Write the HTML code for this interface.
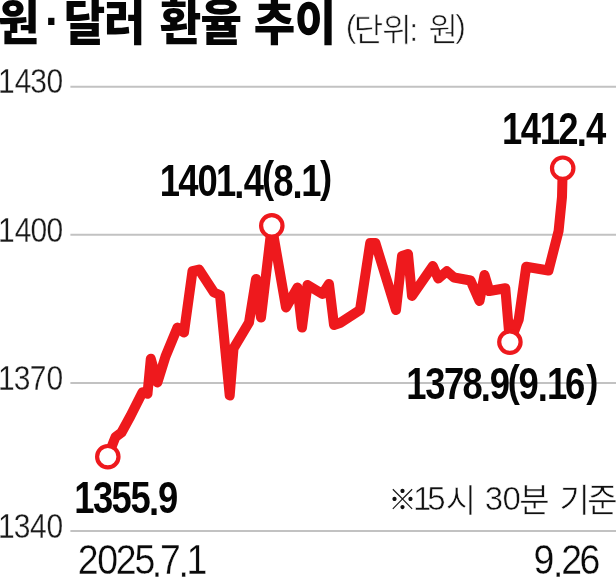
<!DOCTYPE html>
<html lang="ko">
<head>
<meta charset="utf-8">
<title>원·달러 환율 추이</title>
<style>
html,body{margin:0;padding:0;background:#fff;}
body{width:616px;height:577px;overflow:hidden;position:relative;}
svg{position:absolute;left:0;top:0;display:block;}
text{font-family:"Liberation Sans","Noto Sans CJK KR",sans-serif;white-space:pre;}
.title{font-weight:900;font-size:49px;fill:#050505;}
.unit{font-weight:400;font-size:32px;fill:#161616;stroke:#fff;stroke-width:0.6px;}
.ax{font-size:35.6px;fill:#1a1a1a;stroke:#fff;stroke-width:0.3px;}
.dt{font-size:42px;fill:#0a0a0a;stroke:#fff;stroke-width:0.3px;}
.lb{font-size:44.5px;font-weight:700;fill:#050505;}
.note{font-weight:400;font-size:33px;fill:#111;stroke:#fff;stroke-width:0.55px;}
</style>
</head>
<body>
<svg width="616" height="577" viewBox="0 0 616 577">
  <rect width="616" height="577" fill="#fff"/>
  <g stroke="#c2c2c2" stroke-width="2">
    <line x1="70.4" y1="86.7" x2="616" y2="86.7"/>
    <line x1="70.4" y1="234.8" x2="616" y2="234.8"/>
    <line x1="70.4" y1="382.9" x2="616" y2="382.9"/>
    <line x1="70.4" y1="531" x2="616" y2="531"/>
  </g>
  <text class="ko title" transform="translate(0 39.9) scale(0.92 1)" x="-2.24 48.85 69.41 113.17 162.17 173.55 217.89 266.89 275.83 320.29" y="0 -1.5 0 0 0 0 0 0 0 0">원·달러 환율 추이</text>
  <text class="ko unit" transform="translate(0 40.5) scale(1.0 1)" x="345.82 353.82 382.32 409.32 441.32 428.4 455.22" y="-3.2 0 0 0 0 0 -3.2">(단위: 원)</text>
  <text class="ax" transform="translate(0 93.3) scale(0.843 1)" x="-2.32 17.49 35.88 55.04" y="0">1430</text>
  <text class="ax" transform="translate(0 241.6) scale(0.843 1)" x="-2.32 17.49 36.06 55.04" y="0">1400</text>
  <text class="ax" transform="translate(0 389.9) scale(0.843 1)" x="-2.32 16.31 35.35 55.28" y="0">1370</text>
  <text class="ax" transform="translate(0 537.7) scale(0.843 1)" x="-2.32 16.31 35.64 55.04" y="0">1340</text>
  <polyline fill="none" stroke="#ee191d" stroke-width="10" stroke-linejoin="round" stroke-linecap="round"
   points="107.8,456.7 113.5,442 115.5,437 121.5,432.5 130.5,416 142.5,392.3 147.5,393.8 150.8,358.8 157.4,382.5 165.5,356.5 172.3,340 177.5,327.5 184,332.5 192.5,271 199,269.5 214,292.5 220,295 229.7,395.5 233.5,348.5 249,322.5 256,279 261,317.5 271.8,225.8 286,307.5 297.5,287.5 302,327.5 307.5,285 322.5,294 329,284 334,325 340,323 360,310 370.2,243 375.4,243 396,310 402,256 408,254 412,296 432.8,266 438.3,278.5 446.8,271.2 454,277.5 470.5,280.5 479.5,301 484.5,275 489.3,291 505.3,288.2 509.9,342.1 518.7,319.7 526.2,266.8 548.5,270.5 558.6,231 562,197 562.7,168.2"/>
  <g fill="#fff" stroke="#ee191d" stroke-width="4.2">
    <circle cx="107.8" cy="456.7" r="10.7"/>
    <circle cx="271.8" cy="225.8" r="10.7"/>
    <circle cx="509.9" cy="342.1" r="10.7"/>
    <circle cx="562.7" cy="168.2" r="10.7"/>
  </g>
  <text class="lb" transform="translate(0 143.6) scale(0.818 1)" x="613.67 636.58 659.76 682.51 705.02 716.47" y="0 0 0 0 2.2 0">1412.4</text>
  <text class="lb" transform="translate(0 195.8) scale(0.818 1)" x="195.33 218 241.43 264.03 286.31 298.08 320.15 334.12 357.58 368.31 391.08" y="0 0 0 0 2.2 0 -3.5 0 2.2 0 -3.5">1401.4(8.1)</text>
  <text class="lb" transform="translate(0 399.2) scale(0.818 1)" x="496.67 519.77 542.77 565.54 587.72 598.79 620.88 633.99 657.34 668.8 690.84 716.75" y="0 0 0 0 2.2 0 -3.5 0 2.2 0 0 -3.5">1378.9(9.16)</text>
  <text class="lb" transform="translate(0 513.2) scale(0.818 1)" x="90.81 113.78 136.44 159.54 182.03 193.16" y="0 0 0 0 2.2 0">1355.9</text>
  <text class="ko note" transform="translate(0 511.5) scale(1.0 1)"><tspan x="388.5" y="-1.7" font-size="28" stroke="none">※</tspan><tspan x="413.06 427.32 445.64 478.64 484.82 502.56 519.28 552.28 559.61 587.19" y="-1.6 -1.6 0 0 -1.6 -1.6 0 0 0 0">15시 30분 기준</tspan></text>
  <text class="dt" transform="translate(0 574.2) scale(0.89 1)" x="87.34 109.2 130.15 151.26 170.52 179.7 200.69 209.46" y="0 0 0 0 2.6 0 2.6 0">2025.7.1</text>
  <text class="dt" transform="translate(0 574.2) scale(0.89 1)" x="599.48 621.31 630.49 651.27" y="0 2.6 0 0">9.26</text>
</svg>
</body>
</html>
